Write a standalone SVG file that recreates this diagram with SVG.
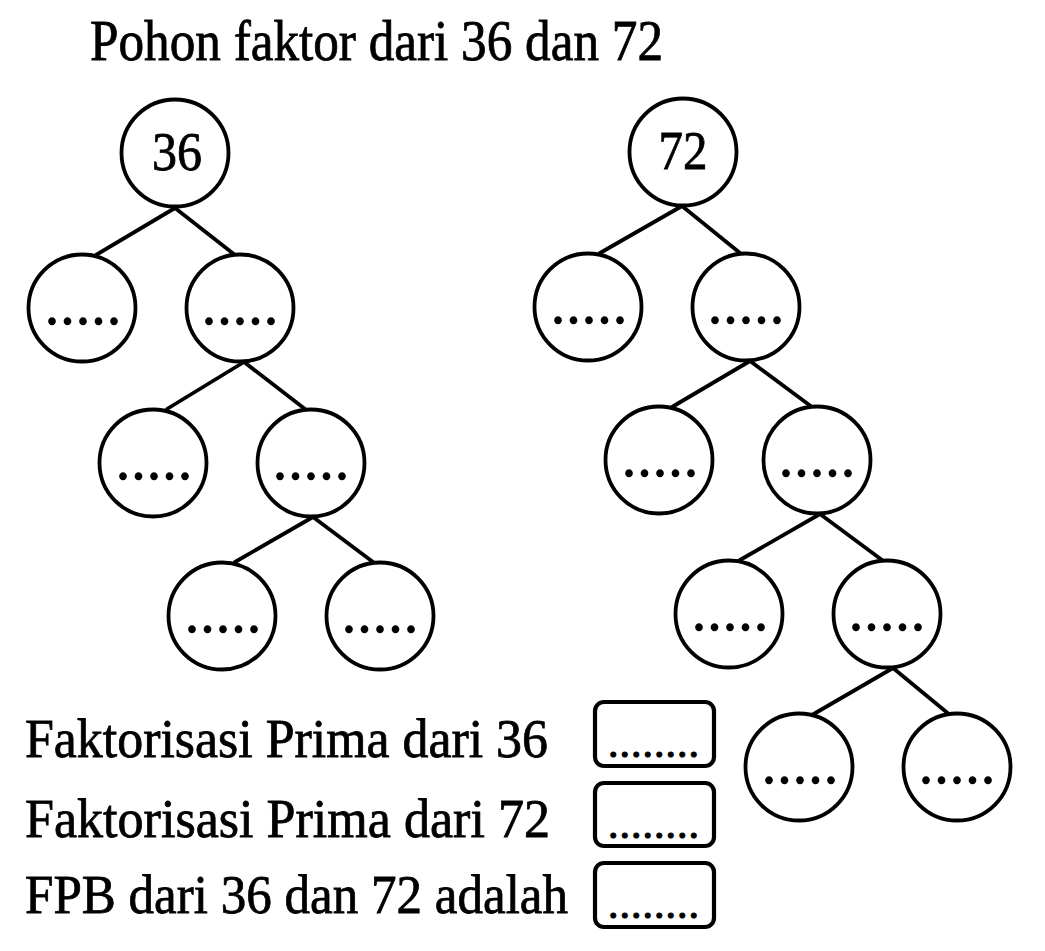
<svg xmlns="http://www.w3.org/2000/svg" width="1045" height="951" viewBox="0 0 1045 951">
<style>
.n{fill:#fff;stroke:#000;stroke-width:3.8}
.b{fill:#fff;stroke:#000;stroke-width:4.2}
.t{font-family:"Liberation Serif","Times New Roman",serif;fill:#000;stroke:#000;stroke-width:0.8}
.num{font-size:55px;text-anchor:middle}
.dot{font-size:54px;text-anchor:middle;stroke-width:1.3;letter-spacing:2px}
.bd{font-size:42px;text-anchor:middle;stroke-width:1.1;letter-spacing:1px}
.lbl{font-size:55px}
#edges line{stroke:#000;stroke-width:3.8;stroke-linecap:round}
</style>
<rect width="1045" height="951" fill="#fff"/>
<text class="t" x="90" y="60" font-size="57" textLength="573" lengthAdjust="spacingAndGlyphs">Pohon faktor dari 36 dan 72</text>
<g id="edges">
<line x1="175" y1="208" x2="96" y2="255"/>
<line x1="175" y1="208" x2="235" y2="255"/>
<line x1="244" y1="362" x2="167" y2="409"/>
<line x1="244" y1="362" x2="305" y2="409"/>
<line x1="313" y1="517" x2="235" y2="562"/>
<line x1="313" y1="517" x2="373" y2="562"/>
<line x1="682" y1="206" x2="600" y2="253"/>
<line x1="682" y1="206" x2="740" y2="253"/>
<line x1="750" y1="361" x2="672" y2="407"/>
<line x1="750" y1="361" x2="812" y2="407"/>
<line x1="820" y1="514" x2="740" y2="560"/>
<line x1="820" y1="514" x2="882" y2="560"/>
<line x1="893" y1="668" x2="812" y2="715"/>
<line x1="893" y1="668" x2="950" y2="715"/>
</g>
<g id="n36"><circle class="n" cx="175" cy="153" r="53.5"/><text class="t num" x="177" y="170" textLength="50" lengthAdjust="spacingAndGlyphs">36</text></g>
<g id="a1"><circle class="n" cx="82" cy="308" r="53.5"/><text class="t dot" x="84" y="324">.....</text></g>
<g id="a2"><circle class="n" cx="240" cy="308" r="53.5"/><text class="t dot" x="241" y="324">.....</text></g>
<g id="a3"><circle class="n" cx="153" cy="463" r="53.5"/><text class="t dot" x="155" y="479">.....</text></g>
<g id="a4"><circle class="n" cx="311" cy="463" r="53.5"/><text class="t dot" x="312" y="479">.....</text></g>
<g id="a5"><circle class="n" cx="222" cy="616" r="53.5"/><text class="t dot" x="224" y="632">.....</text></g>
<g id="a6"><circle class="n" cx="380" cy="616" r="53.5"/><text class="t dot" x="381" y="632">.....</text></g>
<g id="n72"><circle class="n" cx="683" cy="152" r="53.5"/><text class="t num" x="683" y="169" textLength="49" lengthAdjust="spacingAndGlyphs">72</text></g>
<g id="b1"><circle class="n" cx="588" cy="307" r="53.5"/><text class="t dot" x="590" y="323">.....</text></g>
<g id="b2"><circle class="n" cx="746" cy="307" r="53.5"/><text class="t dot" x="747" y="323">.....</text></g>
<g id="b3"><circle class="n" cx="659" cy="460" r="53.5"/><text class="t dot" x="661" y="476">.....</text></g>
<g id="b4"><circle class="n" cx="817" cy="460" r="53.5"/><text class="t dot" x="818" y="476">.....</text></g>
<g id="b5"><circle class="n" cx="729" cy="614" r="53.5"/><text class="t dot" x="731" y="630">.....</text></g>
<g id="b6"><circle class="n" cx="887" cy="614" r="53.5"/><text class="t dot" x="888" y="630">.....</text></g>
<g id="b7"><circle class="n" cx="799" cy="767" r="53.5"/><text class="t dot" x="801" y="783">.....</text></g>
<g id="b8"><circle class="n" cx="957" cy="767" r="53.5"/><text class="t dot" x="958" y="783">.....</text></g>
<g id="q1"><text class="t lbl" x="25" y="757" textLength="523" lengthAdjust="spacingAndGlyphs">Faktorisasi Prima dari 36</text><rect class="b" x="595" y="702" width="119" height="64" rx="9"/><text class="t bd" x="654" y="757">........</text></g>
<g id="q2"><text class="t lbl" x="25" y="837" textLength="525" lengthAdjust="spacingAndGlyphs">Faktorisasi Prima dari 72</text><rect class="b" x="595" y="783" width="119" height="63" rx="9"/><text class="t bd" x="654" y="838">........</text></g>
<g id="q3"><text class="t lbl" x="25" y="913" textLength="543" lengthAdjust="spacingAndGlyphs">FPB dari 36 dan 72 adalah</text><rect class="b" x="595" y="863" width="119" height="64" rx="9"/><text class="t bd" x="654" y="918">........</text></g>
</svg>
